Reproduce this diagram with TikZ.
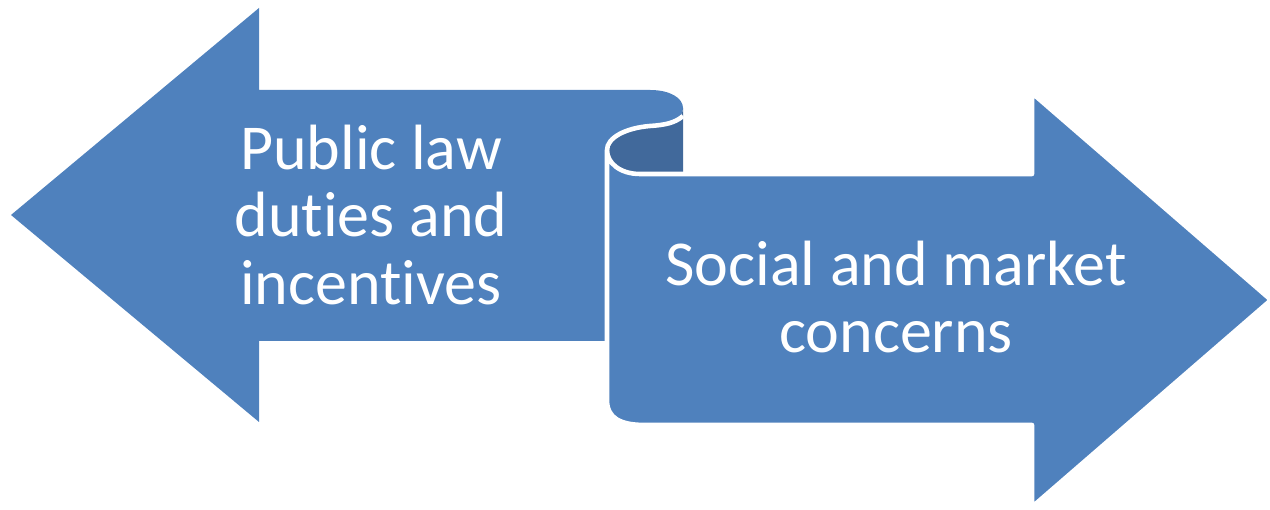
\documentclass[tikz,border=0pt]{standalone}
\usepackage{fontspec}
\setmainfont[Ligatures=NoCommon]{Carlito}
\usetikzlibrary{positioning}
\definecolor{arrowblue}{HTML}{4F81BD}
\definecolor{curlblue}{HTML}{41699B}
% keep t and i apart (Carlito joins them)
\newcommand{\ti}{t\kern0pt i}

\begin{document}
\begin{tikzpicture}[x=0.01cm, y=-0.01cm, font=\fontsize{18.2}{19.2}\selectfont]
\tikzset{band/.style={fill=arrowblue, draw=white, line width=1.3pt, line join=round},
  arrowtext/.style={white, align=center, inner sep=0pt}}

\useasboundingbox (0,0) rectangle (1270,510);

% left arrow with the rolled tab
\fill[arrowblue] (11,215) -- (259,8) -- (259,90) -- (650,90)
  .. controls (670,90) and (683,98) .. (683,108)
  .. controls (683,118) and (672,124) .. (650,126)
  .. controls (625,128) and (607,138) .. (607,150)
  -- (607,341) -- (259,341) -- (259,422) -- cycle;

% back of the curl
\fill[curlblue] (683,108) -- (683,174) -- (640,174)
  .. controls (620,174) and (607,163) .. (607,150)
  .. controls (607,138) and (625,128) .. (650,126)
  .. controls (672,124) and (683,118) .. (683,108) -- cycle;

% right arrow
\draw[band] (607,150) .. controls (607,163) and (620,174) .. (640,174)
  -- (1032,174) -- (1032,93) -- (1271,300) -- (1032,507) -- (1032,425)
  -- (645,425) .. controls (620,425) and (607,418) .. (607,400) -- cycle;

\draw[white, line width=1.3pt] (683,116) .. controls (675,123) and (665,125) .. (650,126)
  .. controls (625,128) and (607,138) .. (607,150);

\node[arrowtext] (duties) at (371,215) {Public law\\du\ti es and\\incen\ti ves};
\node[arrowtext] (concerns) at (896,297) {Social and market\\concerns};

\end{tikzpicture}
\end{document}
